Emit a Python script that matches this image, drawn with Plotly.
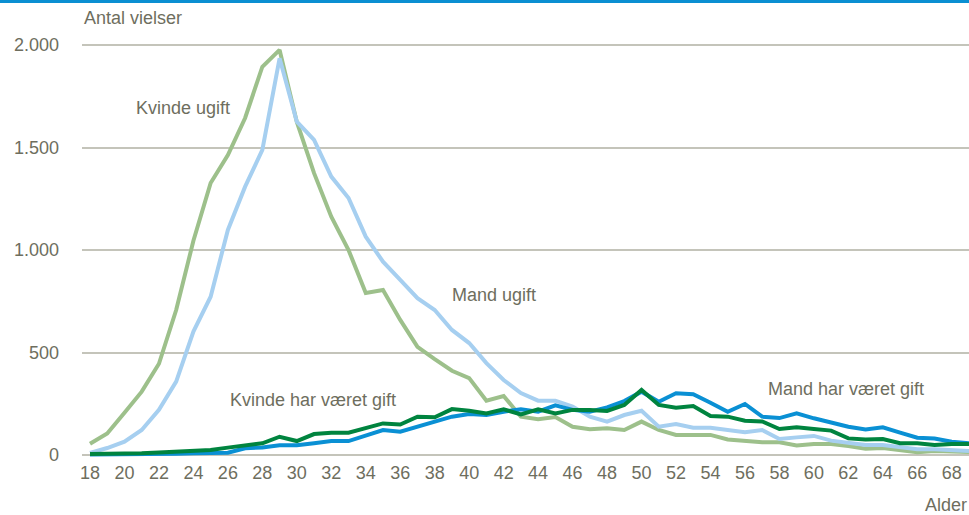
import plotly.graph_objects as go

ages = list(range(18, 70))

kvinde_ugift = [55, 105, 206, 309, 445, 707, 1045, 1327, 1463, 1644, 1894, 1976, 1625, 1375, 1162, 1000,
                790, 805, 659, 528, 468, 411, 375, 265, 288, 187, 175, 185, 138, 126,
                131, 122, 163, 122, 98, 98, 98, 76, 68, 62, 62, 46, 54, 54, 44, 31, 34, 24, 13, 20, 18, 15]

mand_ugift = [10, 34, 65, 122, 220, 358, 602, 772, 1098, 1309, 1488, 1935, 1626, 1537, 1358, 1254,
              1065, 943, 854, 765, 707, 610, 546, 448, 366, 302, 265, 265, 236, 187,
              163, 195, 216, 138, 151, 133, 133, 122, 111, 122, 78, 86, 93, 70, 60, 49, 49, 37, 28, 28, 24, 20]

kvinde_gift = [5, 5, 6, 8, 12, 16, 21, 24, 36, 47, 57, 89, 68, 102, 109, 109,
               133, 154, 149, 187, 184, 224, 216, 203, 223, 198, 223, 203, 220, 220,
               215, 244, 317, 244, 231, 239, 190, 187, 167, 164, 127, 135, 127, 119, 81, 76, 78, 57, 57, 49, 54, 54]

mand_gift = [2, 2, 3, 4, 5, 6, 8, 10, 11, 33, 37, 47, 47, 57, 68, 68,
             93, 122, 114, 138, 167, 187, 200, 195, 211, 223, 211, 242, 220, 211,
             232, 263, 309, 260, 301, 296, 255, 211, 249, 187, 180, 203, 179, 158, 138, 125, 135, 109, 84, 80, 65, 57]

tick_vals = list(range(18, 70, 2))
tick_text = [str(v) for v in tick_vals]
y_tick_vals = [0, 500, 1000, 1500, 2000]
y_tick_text = ["0", "500", "1.000", "1.500", "2.000"]

FONT = "Liberation Sans Narrow, Arial Narrow, Liberation Sans, Arial, sans-serif"
TXT = "#6e6e5e"
FS = 18

fig = go.Figure()
series = [
    ("Kvinde ugift", kvinde_ugift, "#9dc08b"),
    ("Mand ugift", mand_ugift, "#a6cff0"),
    ("Mand har været gift", mand_gift, "#0a90d4"),
    ("Kvinde har været gift", kvinde_gift, "#00843f"),
]
for name, vals, col in series:
    fig.add_trace(go.Scatter(x=ages, y=vals, mode="lines", name=name,
                             line=dict(color=col, width=4), showlegend=False))

annots = [
    ("Kvinde ugift", 23.4, 1693),
    ("Mand ugift", 41.43, 780),
    ("Kvinde har været gift", 30.94, 268),
    ("Mand har været gift", 61.85, 322),
]
for t, x, y in annots:
    fig.add_annotation(x=x, y=y, text=t, showarrow=False,
                       font=dict(family=FONT, size=FS, color=TXT))

fig.add_annotation(xref="paper", yref="paper", x=0.0, y=1 + 22 / 420, text="Antal vielser",
                   showarrow=False, xanchor="left", yanchor="middle",
                   font=dict(family=FONT, size=FS, color=TXT))
fig.add_annotation(xref="paper", yref="paper", x=1.0, y=-45 / 420, text="Alder",
                   showarrow=False, xanchor="right", yanchor="middle",
                   font=dict(family=FONT, size=FS, color=TXT))

fig.add_shape(type="rect", xref="paper", yref="paper", x0=-0.2, x1=1.1,
              y0=1 + 37 / 420, y1=1 + 41 / 420, fillcolor="#0a8fd2", line_width=0, layer="above")

fig.update_layout(
    width=969, height=515,
    margin=dict(l=82, r=0, t=40, b=55),
    plot_bgcolor="white", paper_bgcolor="white",
    hovermode=False,
    font=dict(family=FONT, size=FS, color=TXT),
    xaxis=dict(range=[17.536, 69.0], tickvals=tick_vals, ticktext=tick_text,
               showgrid=False, zeroline=False, showline=False, ticks="",
               tickfont=dict(family=FONT, size=FS, color=TXT)),
    yaxis=dict(range=[-24.4, 2024.4], tickvals=y_tick_vals, ticktext=y_tick_text,
               showgrid=True, gridcolor="#c4c4ba", gridwidth=1.5,
               zeroline=True, zerolinecolor="#c4c4ba", zerolinewidth=1.5,
               showline=False, ticks="", ticklabelstandoff=22,
               tickfont=dict(family=FONT, size=FS, color=TXT)),
)

fig.write_html("out.html", config={"displayModeBar": False},
               post_script="document.body.style.margin='0';document.body.style.overflow='hidden';")
